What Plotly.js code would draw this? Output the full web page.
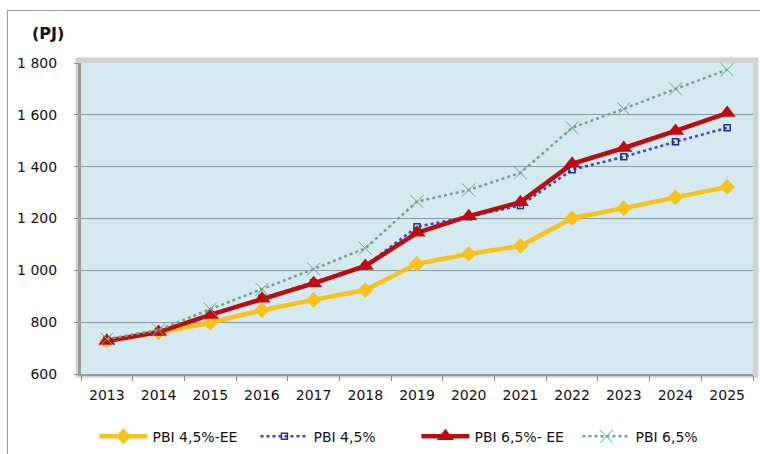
<!DOCTYPE html>
<html>
<head>
<meta charset="utf-8">
<script src="https://cdn.plot.ly/plotly-3.0.1.min.js"></script>
<style>
html,body{margin:0;padding:0;background:#fff;}
#frame{position:absolute;left:7px;top:10px;width:800px;height:500px;border-left:1px solid #9a9a9a;border-top:1px solid #9a9a9a;}
#chart{position:absolute;left:0;top:0;width:760px;height:454px;}
</style>
</head>
<body>
<div id="frame"></div>
<div id="chart"></div>
<script>
const years = ['2013','2014','2015','2016','2017','2018','2019','2020','2021','2022','2023','2024','2025'];
const pbi45EE = [728, 760, 798, 846, 886, 924, 1025, 1063, 1094, 1201, 1240, 1282, 1322];
const pbi45   = [730, 764, 830, 892, 952, 1017, 1168, 1207, 1250, 1388, 1438, 1496, 1550];
const pbi65EE = [727, 762, 828, 890, 950, 1017, 1145, 1209, 1263, 1411, 1472, 1538, 1607];
const pbi65   = [735, 770, 850, 927, 1005, 1085, 1265, 1310, 1376, 1550, 1623, 1700, 1774];
const seriesNames = ['PBI 4,5%-EE', 'PBI 4,5%', 'PBI 6,5%- EE', 'PBI 6,5%'];
const yTicks = [600, 800, 1000, 1200, 1400, 1600, 1800];
const yTickText = ['600', '800', '1 000', '1 200', '1 400', '1 600', '1 800'];

const font = 'Tahoma, "DejaVu Sans", "Noto Sans", sans-serif';

const traces = [
  {x: years, y: pbi45EE, name: seriesNames[0], mode: 'lines+markers',
   line: {color: '#f7c21b', width: 4.5}, marker: {symbol: 'diamond', size: 12, color: '#f7c21b'}},
  {x: years, y: pbi45, name: seriesNames[1], mode: 'lines+markers',
   line: {color: '#3a45c8', width: 2.5, dash: 'dot'}, marker: {symbol: 'square-open', size: 6, color: '#26307f', line: {width: 1.5}}},
  {x: years, y: pbi65EE, name: seriesNames[2], mode: 'lines+markers',
   line: {color: '#b70f12', width: 4.5}, marker: {symbol: 'triangle-up', size: 15, color: '#c00c10'}},
  {x: years, y: pbi65, name: seriesNames[3], mode: 'lines+markers',
   line: {color: '#6aa58e', width: 2.5, dash: 'dot'}, marker: {symbol: 'x-thin-open', size: 13, color: '#6aa58e', line: {width: 1, color: '#6aa58e'}}}
];

const layout = {
  width: 760, height: 454,
  margin: {l: 81, r: 7, t: 63, b: 80, autoexpand: false},
  paper_bgcolor: 'rgba(0,0,0,0)',
  plot_bgcolor: 'rgba(0,0,0,0)',
  showlegend: true,
  font: {family: font, size: 14, color: '#111'},
  xaxis: {
    type: 'category', tickson: 'boundaries', ticks: 'outside', ticklen: 5, tickcolor: '#888',
    showline: true, linecolor: '#999', linewidth: 2, showgrid: false,
    tickfont: {family: font, size: 14, color: '#111'}, ticklabelstandoff: 7,
    range: [-0.5, 12.5]
  },
  yaxis: {
    range: [600, 1800], tickvals: yTicks, ticktext: yTickText,
    ticks: 'outside', ticklen: 4, tickcolor: '#888',
    showline: true, linecolor: '#9a9a9a', linewidth: 3,
    showgrid: true, gridcolor: '#8a9aa2', gridwidth: 1, zeroline: false,
    tickfont: {family: font, size: 14, color: '#111'}, ticklabelstandoff: 14
  },
  legend: {
    orientation: 'h', x: 0.02, y: -0.15, xanchor: 'left', yanchor: 'top',
    font: {family: font, size: 14, color: '#111'}, itemwidth: 48,
    entrywidth: 98, entrywidthmode: 'pixels',
    bgcolor: 'rgba(0,0,0,0)', traceorder: 'normal'
  },
  shapes: [
    {type: 'rect', xref: 'paper', yref: 'paper', x0: -0.008, x1: 1.008, y0: -0.012, y1: 1.018,
     fillcolor: '#d2d2d2', line: {width: 0}, layer: 'below'},
    {type: 'rect', xref: 'paper', yref: 'paper', x0: 0, x1: 1, y0: 0, y1: 1,
     fillcolor: '#d5e9f1', line: {width: 0}, layer: 'below'}
  ],
  annotations: [
    {text: '<b>(PJ)</b>', xref: 'paper', yref: 'paper', x: -0.049, y: 1.096, xanchor: 'center', yanchor: 'middle',
     showarrow: false, font: {family: font, size: 16, color: '#111'}}
  ]
};

Plotly.newPlot('chart', traces, layout, {displayModeBar: false, staticPlot: true});
</script>
</body>
</html>
